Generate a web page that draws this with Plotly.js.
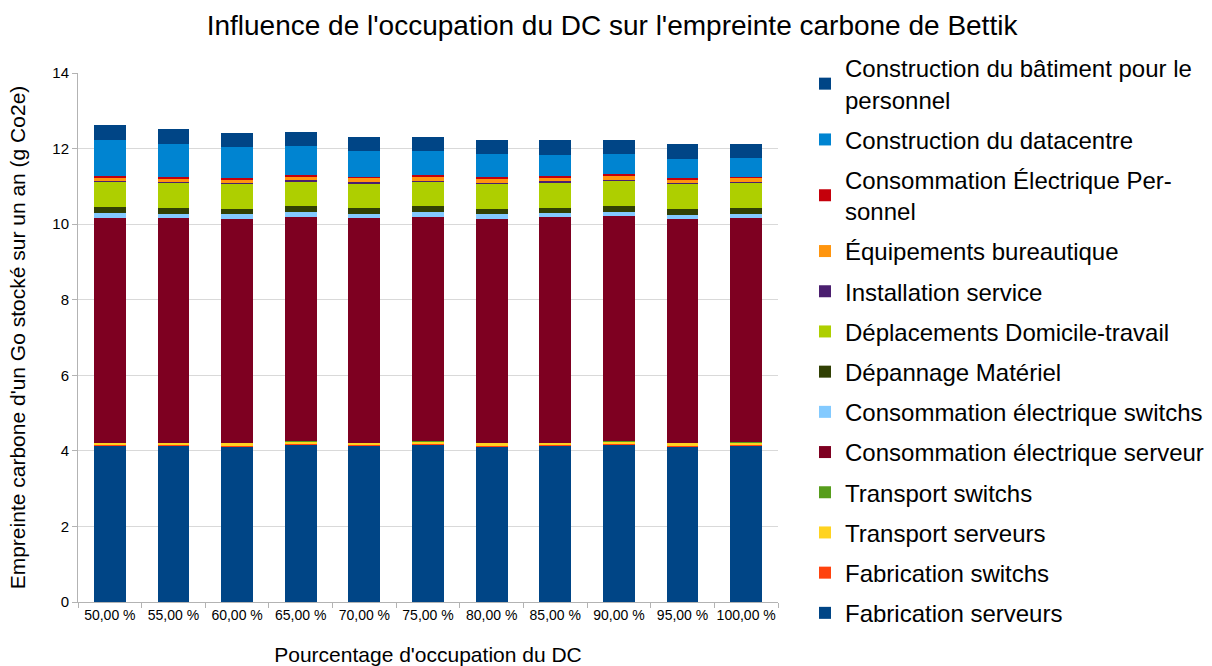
<!DOCTYPE html>
<html>
<head>
<meta charset="utf-8">
<script src="https://cdn.plot.ly/plotly-3.0.1.min.js"></script>
<style>html,body{margin:0;padding:0;background:#fff}#chart{width:1212px;height:666px}</style>
</head>
<body>
<div id="chart"></div>
<script>
const categories = ["50,00 %","55,00 %","60,00 %","65,00 %","70,00 %","75,00 %","80,00 %","85,00 %","90,00 %","95,00 %","100,00 %"];

const fabricationServeurs   = [4.12,4.12,4.11,4.15,4.12,4.15,4.11,4.12,4.15,4.11,4.13];
const fabricationSwitchs    = [0.03,0.03,0.03,0.03,0.03,0.03,0.03,0.03,0.03,0.03,0.03];
const transportServeurs     = [0.06,0.06,0.06,0.06,0.06,0.06,0.06,0.06,0.06,0.06,0.06];
const transportSwitchs      = [0.01,0.01,0.01,0.01,0.01,0.01,0.01,0.01,0.01,0.01,0.01];
const consoServeur          = [5.95,5.95,5.93,5.95,5.93,5.94,5.93,5.96,5.96,5.92,5.93];
const consoSwitchs          = [0.12,0.11,0.12,0.12,0.12,0.12,0.12,0.11,0.11,0.12,0.11];
const depannage             = [0.16,0.15,0.15,0.16,0.15,0.16,0.15,0.15,0.16,0.15,0.15];
const deplacements          = [0.66,0.65,0.65,0.64,0.65,0.64,0.65,0.65,0.65,0.65,0.66];
const installation          = [0.03,0.03,0.04,0.04,0.04,0.04,0.04,0.04,0.04,0.04,0.04];
const equipements           = [0.08,0.09,0.08,0.09,0.10,0.09,0.09,0.09,0.10,0.09,0.09];
const consoPersonnel        = [0.05,0.05,0.05,0.05,0.05,0.05,0.05,0.05,0.05,0.05,0.05];
const constructionDC        = [0.97,0.88,0.82,0.76,0.68,0.65,0.61,0.57,0.53,0.50,0.48];
const constructionBatiment  = [0.38,0.38,0.37,0.37,0.37,0.37,0.38,0.38,0.38,0.38,0.38];

const seriesNames = [
  "Fabrication serveurs","Fabrication switchs","Transport serveurs","Transport switchs",
  "Consommation électrique serveur","Consommation électrique switchs","Dépannage Matériel",
  "Déplacements Domicile-travail","Installation service","Équipements bureautique",
  "Consommation Électrique Per-<br>sonnel","Construction du datacentre",
  "Construction du bâtiment pour le<br>personnel"
];
const seriesValues = [fabricationServeurs,fabricationSwitchs,transportServeurs,transportSwitchs,
  consoServeur,consoSwitchs,depannage,deplacements,installation,equipements,consoPersonnel,
  constructionDC,constructionBatiment];
const seriesColors = ["#004586","#ff420e","#ffd320","#579d1c","#7e0021","#83caff","#314004",
  "#aecf00","#4b1f6f","#ff950e","#c5000b","#0084d1","#004586"];

const traces = seriesNames.map((n,i)=>({
  type:"bar", name:n, x:categories, y:seriesValues[i],
  marker:{color:seriesColors[i], line:{width:0}},
  legendgroup:"g"+i, legendrank:1000-i
}));

const layout = {
  width:1212, height:666,
  font:{family:"Liberation Sans, Arial, sans-serif", color:"#000"},
  paper_bgcolor:"#fff", plot_bgcolor:"#fff",
  margin:{l:78, r:434, t:73, b:64, autoexpand:false},
  barmode:"stack", bargap:0.5,
  title:{text:"Influence de l'occupation du DC sur l'empreinte carbone de Bettik",
    font:{size:28, color:"#000"}, x:0.505, xanchor:"center", y:0.962, yanchor:"middle", yref:"container"},
  xaxis:{type:"category", tickfont:{size:14}, tickangle:0, showline:true, linecolor:"#b3b3b3",
    ticks:"outside", tickson:"boundaries", ticklen:5, tickcolor:"#b3b3b3",
    showgrid:false, title:{text:"Pourcentage d'occupation du DC", font:{size:21}, standoff:27}},
  yaxis:{range:[0,14], dtick:2, tickfont:{size:15}, showline:true, linecolor:"#b3b3b3",
    ticks:"outside", ticklen:5, tickcolor:"#b3b3b3", gridcolor:"#d9d9d9", zeroline:false,
    title:{text:"Empreinte carbone d'un Go stocké sur un an (g Co2e)", font:{size:21}, standoff:20}},
  legend:{xref:"container", yref:"container", x:0.6642, xanchor:"left", y:0.931, yanchor:"top",
    traceorder:"grouped", font:{size:24, color:"#000"}, tracegroupgap:6, itemwidth:30, maxheight:1},
  showlegend:true
};

Plotly.newPlot("chart", traces, layout, {displayModeBar:false, staticPlot:true});
</script>
</body>
</html>
